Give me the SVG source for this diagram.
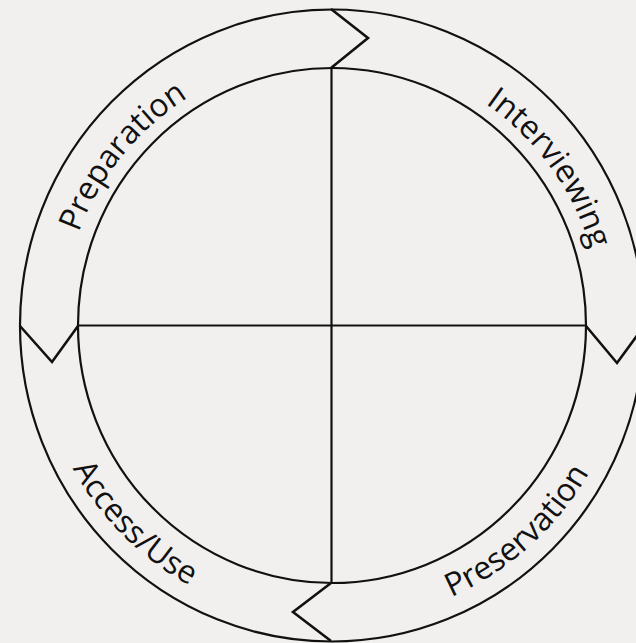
<svg xmlns="http://www.w3.org/2000/svg" width="636" height="643" viewBox="0 0 636 643">
<style>
.ring{fill:none;stroke:#111;stroke-width:2.2}
.chev{fill:none;stroke:#111;stroke-width:2.6;stroke-linejoin:miter}
.cross{stroke:#111;stroke-width:2.2}
.lbl{font-family:"Open Sans","Noto Sans",sans-serif;font-size:32px;fill:#111}
</style>
<defs>
<path id="pPrep" d="M 62.04 330.71 A 270 270 0 0 1 280.48 60.97"/>
<path id="pInt" d="M 397.32 64.02 A 270 270 0 0 1 601.34 344.83"/>
<path id="pPres" d="M 342.33 621.82 A 296 296 0 0 0 625.12 367.20"/>
<path id="pAcc" d="M 37.13 351.80 A 296 296 0 0 0 306.20 620.87"/>
</defs>
<rect width="636" height="643" fill="#f1f0ee"/>
<g id="rings">
<ellipse class="ring" cx="332" cy="325.5" rx="312" ry="316"/>
<ellipse class="ring" cx="332" cy="325.5" rx="254" ry="257.5"/>
</g>
<g id="quadrants">
<line class="cross" x1="331.5" y1="68" x2="331.5" y2="583"/>
<line class="cross" x1="78" y1="325.5" x2="586" y2="325.5"/>
</g>
<g id="connectors">
<polyline class="chev" points="331,9 368,38 331,68"/>
<polyline class="chev" points="586,326 617,363 644,326"/>
<polyline class="chev" points="331,583 293,612 331,641"/>
<polyline class="chev" points="20,326 52,362 78,326"/>
</g>
<g id="preparation"><text class="lbl" text-anchor="middle"><textPath href="#pPrep" startOffset="50%">Preparation</textPath></text></g>
<g id="interviewing"><text class="lbl" text-anchor="middle"><textPath href="#pInt" startOffset="50%">Interviewing</textPath></text></g>
<g id="preservation"><text class="lbl" text-anchor="middle"><textPath href="#pPres" startOffset="50%">Preservation</textPath></text></g>
<g id="access-use"><text class="lbl" text-anchor="middle"><textPath href="#pAcc" startOffset="50%">Access/Use</textPath></text></g>
</svg>
